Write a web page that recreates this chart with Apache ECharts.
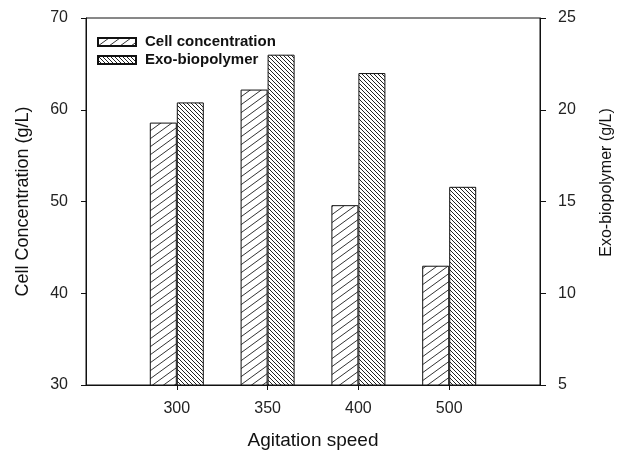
<!DOCTYPE html>
<html>
<head>
<meta charset="utf-8">
<script src="https://cdn.jsdelivr.net/npm/echarts@6/dist/echarts.min.js"></script>
<style>html,body{margin:0;padding:0;background:#fff}#c{width:618px;height:450px}</style>
</head>
<body>
<div id="c"></div>
<script>
var categories = ['300', '350', '400', '500'];
var cellConcentration = [58.6, 62.2, 49.6, 43.0];
var exoBiopolymer = [20.4, 23.0, 22.0, 15.8];
var leftTicks = [30, 40, 50, 60, 70];
var rightTicks = [5, 10, 15, 20, 25];

function hatch(w, h, forward, color, lw) {
  var c = document.createElement('canvas');
  c.width = w; c.height = h;
  var ctx = c.getContext('2d');
  ctx.fillStyle = '#fff';
  ctx.fillRect(0, 0, w, h);
  ctx.strokeStyle = color;
  ctx.lineWidth = lw;
  for (var k = -1; k <= 1; k++) {
    ctx.beginPath();
    if (forward) {
      ctx.moveTo(k * w - w, 2 * h);
      ctx.lineTo(k * w + 2 * w, -h);
    } else {
      ctx.moveTo(k * w - w, -h);
      ctx.lineTo(k * w + 2 * w, 2 * h);
    }
    ctx.stroke();
  }
  return c;
}

var cellPattern = { image: hatch(11, 8, true, '#333', 1), repeat: 'repeat' };
var exoPattern = { image: hatch(4, 4, false, '#222', 1), repeat: 'repeat' };

var xPos = categories.map(function (c, i) { return i + 1; });
var font = 'Liberation Sans, Arial, sans-serif';

var chart = echarts.init(document.getElementById('c'));
chart.setOption({
  animation: false,
  backgroundColor: '#fff',
  textStyle: { fontFamily: font },
  grid: { left: 86, right: 78, top: 18, bottom: 65, show: true, borderColor: '#111', borderWidth: 1,
    containLabel: false, outerBoundsMode: 'none' },
  legend: {
    left: 97, top: 33, orient: 'vertical', padding: 0,
    itemWidth: 38, itemHeight: 8, itemGap: 0,
    icon: 'rect',
    textStyle: { fontSize: 15, fontWeight: 'bold', color: '#111', fontFamily: font, lineHeight: 18, padding: [0, 0, 0, 4] },
    data: ['Cell concentration', 'Exo-biopolymer']
  },
  xAxis: {
    type: 'value', min: 0, max: 5,
    name: 'Agitation speed', nameLocation: 'middle', nameGap: 46,
    nameTextStyle: { fontSize: 19, color: '#111', fontFamily: font },
    splitLine: { show: false },
    axisLine: { lineStyle: { color: '#111' } },
    axisTick: { length: 5, lineStyle: { color: '#111' }, customValues: xPos },
    axisLabel: {
      customValues: xPos, fontSize: 16, color: '#222', margin: 16,
      formatter: function (v) { return categories[Math.round(v) - 1] || ''; }
    }
  },
  yAxis: [{
    type: 'value', min: 30, max: 70, interval: 10, position: 'left',
    name: 'Cell Concentration (g/L)', nameLocation: 'middle', nameGap: 54,
    nameTextStyle: { fontSize: 18, color: '#111', fontFamily: font },
    splitLine: { show: false },
    axisLine: { show: true, lineStyle: { color: '#111' } },
    axisTick: { show: true, length: 5, lineStyle: { color: '#111' } },
    axisLabel: { fontSize: 16, color: '#222', margin: 18,
      formatter: function (v) { return leftTicks.indexOf(v) >= 0 ? String(v) : ''; } }
  }, {
    type: 'value', min: 5, max: 25, interval: 5, position: 'right',
    name: 'Exo-biopolymer (g/L)', nameLocation: 'middle', nameGap: 59,
    nameTextStyle: { fontSize: 16, color: '#111', fontFamily: font, padding: [0, 0, 0, 38] },
    splitLine: { show: false },
    axisLine: { show: true, lineStyle: { color: '#111' } },
    axisTick: { show: true, length: 6, lineStyle: { color: '#111' } },
    axisLabel: { fontSize: 16, color: '#222', margin: 18,
      formatter: function (v) { return rightTicks.indexOf(v) >= 0 ? String(v) : ''; } }
  }],
  series: [{
    name: 'Cell concentration', type: 'bar', yAxisIndex: 0,
    barWidth: 27, barGap: '0%',
    itemStyle: { color: cellPattern, borderColor: '#111', borderWidth: 1 },
    data: cellConcentration.map(function (v, i) { return [xPos[i], v]; })
  }, {
    name: 'Exo-biopolymer', type: 'bar', yAxisIndex: 1,
    barWidth: 27, barGap: '0%',
    itemStyle: { color: exoPattern, borderColor: '#111', borderWidth: 1 },
    data: exoBiopolymer.map(function (v, i) { return [xPos[i], v]; })
  }]
});
</script>
</body>
</html>
